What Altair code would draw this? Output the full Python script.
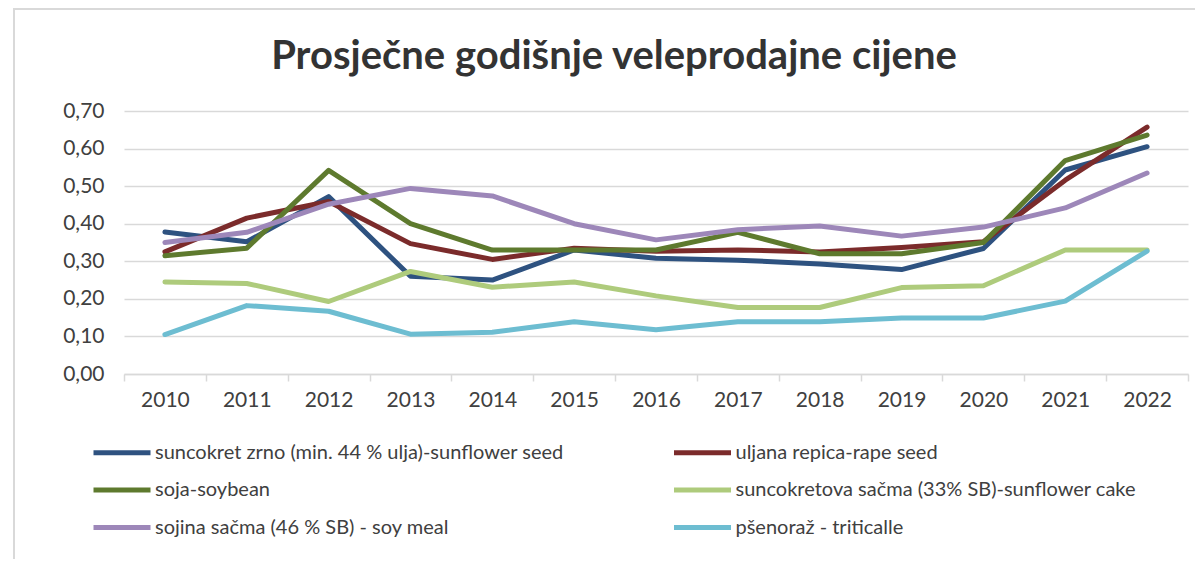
import altair as alt
import pandas as pd

years = [str(y) for y in range(2010, 2023)]

series_names = [
    "suncokret zrno (min. 44 % ulja)-sunflower seed",
    "uljana repica-rape seed",
    "soja-soybean",
    "suncokretova sačma (33% SB)-sunflower cake",
    "sojina sačma (46 % SB) - soy meal",
    "pšenoraž - triticalle",
]

sunflower_seed = [0.378, 0.352, 0.472, 0.260, 0.250, 0.330, 0.308, 0.303, 0.293, 0.278, 0.334, 0.543, 0.605]
rape_seed = [0.325, 0.415, 0.459, 0.347, 0.305, 0.335, 0.327, 0.330, 0.325, 0.337, 0.352, 0.516, 0.657]
soybean = [0.315, 0.335, 0.542, 0.400, 0.330, 0.330, 0.330, 0.377, 0.320, 0.320, 0.350, 0.568, 0.636]
sunflower_cake = [0.245, 0.241, 0.193, 0.273, 0.231, 0.245, 0.208, 0.177, 0.177, 0.230, 0.235, 0.330, 0.330]
soy_meal = [0.350, 0.377, 0.452, 0.494, 0.474, 0.400, 0.357, 0.384, 0.394, 0.367, 0.391, 0.442, 0.535]
triticale = [0.105, 0.182, 0.167, 0.106, 0.111, 0.139, 0.118, 0.139, 0.139, 0.149, 0.149, 0.194, 0.327]

colors = ["#2E5280", "#7B2B2B", "#5E7A2E", "#AECB7C", "#9D87B9", "#6DBDD1"]

all_values = [sunflower_seed, rape_seed, soybean, sunflower_cake, soy_meal, triticale]
rows = []
for name, vals in zip(series_names, all_values):
    for yr, v in zip(years, vals):
        rows.append({"year": yr, "value": v, "series": name})
df = pd.DataFrame(rows)

W, H = 1064, 263
FONT = "Lato"

frame = alt.Chart(alt.Data(values=[{}])).mark_rect(
    fill=None, stroke="#D9D9D9", strokeWidth=2
).encode(
    x=alt.value(-110), x2=alt.value(1300), y=alt.value(-102), y2=alt.value(700)
)

lines = alt.Chart(df).mark_line(strokeWidth=5, strokeCap="round", strokeJoin="round").encode(
    x=alt.X("year:O", bandPosition=0.5,
            scale=alt.Scale(type="band", paddingInner=0, paddingOuter=0),
            axis=alt.Axis(title=None, labelAngle=0, tickBand="extent", grid=False,
                          domainColor="#D9D9D9", domainWidth=1.5, tickColor="#D9D9D9",
                          tickWidth=1.5, tickSize=7, labelPadding=8, labelFontSize=21,
                          labelColor="#404040", labelFont=FONT)),
    y=alt.Y("value:Q", scale=alt.Scale(domain=[0, 0.7], nice=False),
            axis=alt.Axis(title=None, values=[0, 0.1, 0.2, 0.3, 0.4, 0.5, 0.6, 0.7],
                          labelExpr="replace(format(datum.value, '.2f'), '.', ',')",
                          domain=False, ticks=False, gridColor="#D9D9D9", gridWidth=1.5,
                          labelPadding=20, labelFontSize=21, labelColor="#404040", labelFont=FONT)),
    color=alt.Color("series:N", sort=series_names,
                    scale=alt.Scale(domain=series_names, range=colors),
                    legend=alt.Legend(title=None, orient="none", legendX=-23.5, legendY=320,
                                      columns=2, direction="horizontal",
                                      columnPadding=99.5, rowPadding=5.5,
                                      symbolType="M-1.5,0H1.5", symbolStrokeWidth=5, symbolSize=1444,
                                      labelOffset=11.5, labelFontSize=20, labelColor="#404040",
                                      labelFont=FONT, labelLimit=700, padding=0)),
    order=alt.Order("year:O"),
)

chart = alt.layer(frame, lines).properties(
    width=W, height=H,
    autosize=alt.AutoSizeParams(type="none"),
    padding={"left": 116, "top": 103, "right": 7, "bottom": 185},
    title=alt.TitleParams("Prosječne godišnje veleprodajne cijene", fontSize=40, font=FONT,
                          fontWeight="bold", color="#333333", anchor="middle", dx=-42,
                          baseline="alphabetic", offset=-101),
).configure_view(stroke=None)

chart.save("out.html", embed_options={"renderer": "svg", "actions": False})
